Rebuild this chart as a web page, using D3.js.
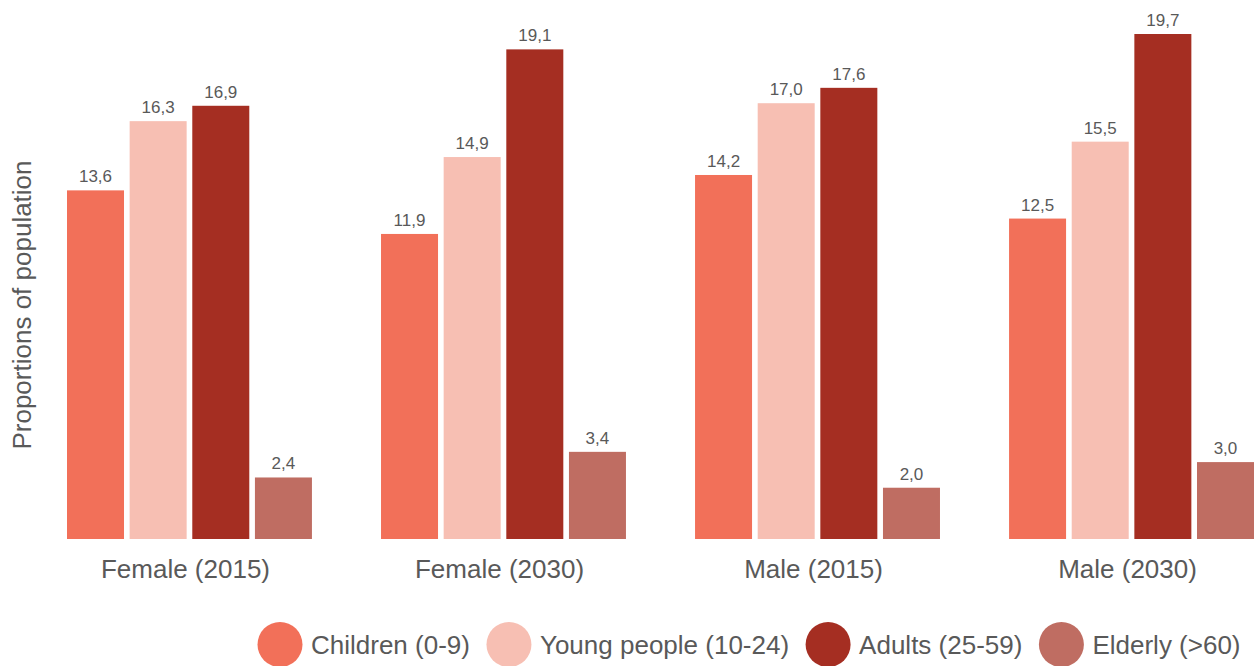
<html>
<head>
    <meta charset="utf-8">
    <title>Proportions of population</title>
    <script src="https://d3js.org/d3.v7.min.js"></script>
    <style>
        body{
            margin: 0;
            background: #fff;
        }
        svg text{
            font-family: "Liberation Sans", Arial, sans-serif;
            fill: #595959;
        }
    </style>
</head>
<body>
<svg id="chart" width="1259" height="666"></svg>

<script>
    var groups = ["Female (2015)", "Female (2030)", "Male (2015)", "Male (2030)"];
    var series = ["Children (0-9)", "Young people (10-24)", "Adults (25-59)", "Elderly (>60)"];
    var colors = ["#f27059", "#f7bfb3", "#a52e22", "#bf6d62"];

    // one array per age group, in the order of groups
    var children = [13.6, 11.9, 14.2, 12.5];
    var young = [16.3, 14.9, 17.0, 15.5];
    var adults = [16.9, 19.1, 17.6, 19.7];
    var elderly = [2.4, 3.4, 2.0, 3.0];
    var values = [children, young, adults, elderly];

    var svg = d3.select("#chart");
    var baseline = 539;

    var x0 = d3.scaleBand()
        .domain(groups)
        .range([67, 1254])
        .paddingInner(0.22)
        .paddingOuter(0);

    var x1 = d3.scaleBand()
        .domain(series)
        .range([0, x0.bandwidth()])
        .paddingInner(0.09)
        .paddingOuter(0);

    var y = d3.scaleLinear()
        .domain([0, d3.max(values, function(v){ return d3.max(v); })])
        .range([baseline, 34]);

    var color = d3.scaleOrdinal().domain(series).range(colors);

    var rows = [];
    groups.forEach(function(g, gi){
        series.forEach(function(s, si){
            rows.push({group: g, key: s, value: values[si][gi]});
        });
    });

    var bars = svg.append("g").selectAll("g")
        .data(rows)
        .enter().append("g")
        .attr("transform", function(d){ return "translate(" + (x0(d.group) + x1(d.key)) + ",0)"; });

    bars.append("rect")
        .attr("x", 0)
        .attr("y", function(d){ return y(d.value); })
        .attr("width", x1.bandwidth())
        .attr("height", function(d){ return baseline - y(d.value); })
        .attr("fill", function(d){ return color(d.key); });

    bars.append("text")
        .attr("x", x1.bandwidth() / 2)
        .attr("y", function(d){ return y(d.value) - 8; })
        .attr("text-anchor", "middle")
        .style("font-size", "17px")
        .text(function(d){ return d.value.toFixed(1).replace(".", ","); });

    // x axis, labels only
    var xAxis = svg.append("g")
        .attr("transform", "translate(-4," + baseline + ")")
        .call(d3.axisBottom(x0).tickSize(0).tickPadding(39));
    xAxis.select(".domain").remove();
    xAxis.selectAll("text")
        .attr("dy", 0)
        .style("font-size", "26px")
        .style("font-family", "\"Liberation Sans\", Arial, sans-serif")
        .attr("fill", "#595959");

    svg.append("text")
        .attr("transform", "translate(31,305) rotate(-90)")
        .attr("text-anchor", "middle")
        .style("font-size", "26px")
        .text("Proportions of population");

    // legend
    var legend = svg.append("g");
    var lx = 280;
    series.forEach(function(s){
        legend.append("circle")
            .attr("cx", lx)
            .attr("cy", 644.5)
            .attr("r", 22.5)
            .attr("fill", color(s));
        var t = legend.append("text")
            .attr("x", lx + 31)
            .attr("y", 654)
            .style("font-size", "26px")
            .text(s);
        lx = lx + 31 + t.node().getComputedTextLength() + 39;
    });
</script>
</body>
</html>
